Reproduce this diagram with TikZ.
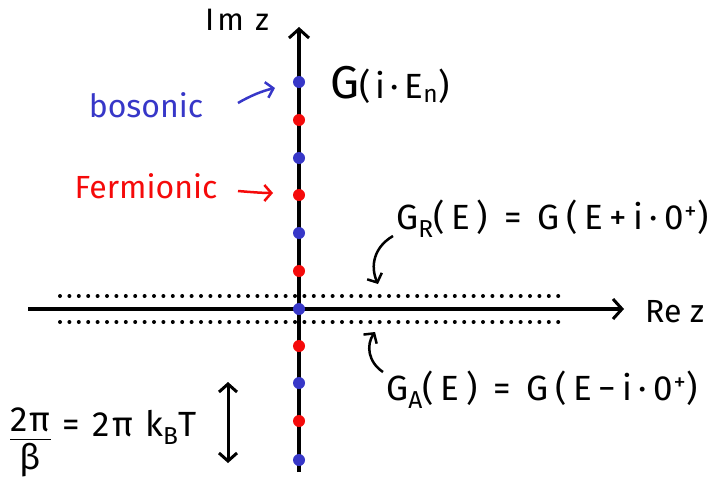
\documentclass[tikz,border=0pt]{standalone}
\usepackage{fontspec}
\setmainfont{Fira Sans}
\usetikzlibrary{arrows.meta}
\definecolor{bblue}{RGB}{55,55,200}
\definecolor{rred}{RGB}{245,10,10}
\tikzset{
  axis/.style={line width=3.5pt,-{Straight Barb[length=9pt,width=20pt,line width=3pt]}},
  hand/.style={line width=2.5pt,-{Straight Barb[length=7pt,width=16pt,line width=2.5pt]}},
  dotline/.style={line width=4pt,dash pattern=on 0pt off 9.4pt,line cap=round},
  bdot/.style={circle,fill=bblue,inner sep=0pt,minimum size=12pt},
  rdot/.style={circle,fill=rred,inner sep=0pt,minimum size=12pt},
  lbl/.style={inner sep=0pt,font=\fontsize{32}{36}\selectfont},
  frm/.style={inner sep=0pt,font=\fontsize{35}{38}\selectfont\addfontfeatures{LetterSpace=15}},
  wfrm/.style={inner sep=0pt,font=\fontsize{35}{38}\selectfont\addfontfeatures{LetterSpace=19}},
  nfrm/.style={inner sep=0pt,font=\fontsize{35}{38}\selectfont\addfontfeatures{LetterSpace=8}}
}
\newcommand{\sbs}[1]{\textsubscript{#1}}
\newcommand{\sps}[1]{\textsuperscript{#1}}
\begin{document}
\begin{tikzpicture}[x=1pt,y=-1pt]
\useasboundingbox (0,0) rectangle (719,487);
% dotted lines
\draw[dotline] (60,296) -- (566,296);
\draw[dotline] (60,322) -- (566,322);
% axes
\coordinate (vb) at (299,472);
\coordinate (vt) at (299,27);
\coordinate (hl) at (28,309);
\coordinate (hr) at (624,309);
\draw[axis] (vb) -- (vt);
\draw[axis] (hl) -- (hr);
% dots
\foreach \i/\y in {1/82,3/158,5/233,7/309,9/383,11/460}
  \node[bdot] (d\i) at (299,\y) {};
\foreach \i/\y in {2/120,4/195,6/271,8/346,10/421}
  \node[rdot] (d\i) at (299,\y) {};
% labels
\node[inner sep=0pt,font=\fontsize{31}{34}\selectfont\addfontfeatures{LetterSpace=10},anchor=base] (im) at (237,31) {Im z};
\node[lbl,anchor=base west] (re) at (645,322) {Re z};
\node[frm,anchor=base west] (gi) at (330,98) {{\fontsize{46}{48}\selectfont G}(i·E\sbs{n})};
\node[lbl,anchor=base,text=bblue] (bos) at (146,117) {bosonic};
\node[lbl,anchor=base,text=rred] (fer) at (146,198) {Fermionic};
\node[wfrm,anchor=base west] (gr) at (396,229) {G\sbs{R}(E) = G(E+i·0\sps{+})};
\node[wfrm,anchor=base west] (ga) at (386,400) {G\sbs{A}(E) = G(E−i·0\sps{+})};
\node[nfrm,anchor=base west] (tt) at (10,436) {\raisebox{-0.3\height}{\begin{tabular}{@{}c@{}}2π\\[-4pt]\hline\rule{0pt}{30pt}β\end{tabular}} = 2π k\sbs{B}T};
% hand arrows
\coordinate (ba) at (275,88);
\coordinate (fa) at (273,193);
\coordinate (gra) at (378,284);
\coordinate (gaa) at (375,332);
\draw[hand,bblue] (238,103) .. controls (250,96) and (262,91) .. (ba);
\draw[hand,rred] (238,191) .. controls (250,192) and (262,193) .. (fa);
\draw[hand] (393,236) .. controls (374,247) and (370,266) .. (gra);
\draw[hand] (383,372) .. controls (368,362) and (366,345) .. (gaa);
\coordinate (tu) at (228,382);
\coordinate (td) at (228,463);
\draw[line width=3pt,{Straight Barb[length=8pt,width=18pt,line width=3pt]}-{Straight Barb[length=8pt,width=18pt,line width=3pt]}] (tu) -- (td);
\end{tikzpicture}
\end{document}
